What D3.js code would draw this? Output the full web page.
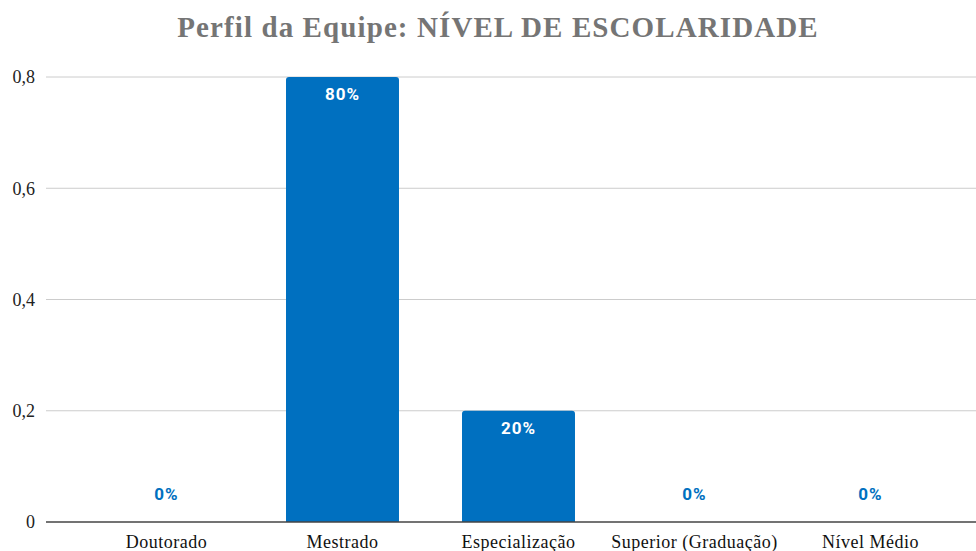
<!DOCTYPE html>
<html><head><meta charset="utf-8">
<script src="https://cdn.jsdelivr.net/npm/d3@7"></script>
<style>body{margin:0;background:#fff}svg{display:block}</style>
</head><body>
<svg id="c" width="976" height="551"></svg>
<script>
const categories = ["Doutorado","Mestrado","Especialização","Superior (Graduação)","Nível Médio"];
const values = [0, 0.8, 0.2, 0, 0];
const valueLabels = ["0%","80%","20%","0%","0%"];
const yTicks = [0, 0.2, 0.4, 0.6, 0.8];
const yTickLabels = ["0","0,2","0,4","0,6","0,8"];
const title = "Perfil da Equipe: NÍVEL DE ESCOLARIDADE";

const svg = d3.select("#c");
const x = d3.scaleBand().domain(categories).range([78.5, 958.5]).paddingInner(0.358).paddingOuter(0.179);
const y = d3.scaleLinear().domain([0, 0.8]).range([522, 77]);
const gridLeft = 46, gridRight = 976;

svg.append("text").attr("x", 498).attr("y", 37).attr("text-anchor","middle")
  .attr("font-family","Liberation Serif").attr("font-weight","bold").attr("font-size",29)
  .attr("letter-spacing",1.1)
  .attr("fill","#757575").text(title);

// gridlines
svg.append("g").selectAll("line").data(yTicks.filter(d=>d>0)).join("line")
  .attr("x1",gridLeft).attr("x2",gridRight).attr("y1",d=>y(d)).attr("y2",d=>y(d))
  .attr("stroke","#cccccc").attr("stroke-width",1);

// y axis labels
const yAxis = d3.axisLeft(y).tickValues(yTicks).tickFormat((d,i)=>yTickLabels[i]).tickSize(0).tickPadding(0);
const ya = svg.append("g").attr("transform","translate(35,0)").call(yAxis);
ya.select(".domain").remove();
ya.selectAll("text").attr("font-family","Liberation Serif").attr("font-size",18).attr("fill","#222").attr("dy","0.32em");

// bars with rounded top
const r = 3;
svg.append("g").selectAll("path").data(values.map((v,i)=>({v,c:categories[i]})).filter(d=>d.v>0)).join("path")
  .attr("fill","#0070c0")
  .attr("d", d=>{
    const x0 = x(d.c), w = x.bandwidth(), yt = y(d.v), yb = y(0);
    return `M${x0},${yb}V${yt+r}Q${x0},${yt} ${x0+r},${yt}H${x0+w-r}Q${x0+w},${yt} ${x0+w},${yt+r}V${yb}Z`;
  });

// baseline
svg.append("line").attr("x1",gridLeft).attr("x2",gridRight).attr("y1",y(0)).attr("y2",y(0))
  .attr("stroke","#444").attr("stroke-width",1.5);

// value labels
svg.append("g").selectAll("text").data(values).join("text")
  .attr("x",(d,i)=>x(categories[i])+x.bandwidth()/2)
  .attr("y",d=> d>0 ? y(d)+23 : y(0)-22)
  .attr("text-anchor","middle")
  .attr("font-family","Roboto").attr("font-weight","bold").attr("font-size",17)
  .attr("letter-spacing",1)
  .attr("fill",d=>d>0?"#ffffff":"#0070c0")
  .text((d,i)=>valueLabels[i]);

// x labels
const xAxis = d3.axisBottom(x).tickSize(0).tickPadding(0);
const xa = svg.append("g").attr("transform","translate(0,522)").call(xAxis);
xa.select(".domain").remove();
xa.selectAll("text").attr("font-family","Liberation Serif").attr("font-size",18)
  .attr("letter-spacing",0.5).attr("fill","#111").attr("dy","26");
</script>
</body></html>
